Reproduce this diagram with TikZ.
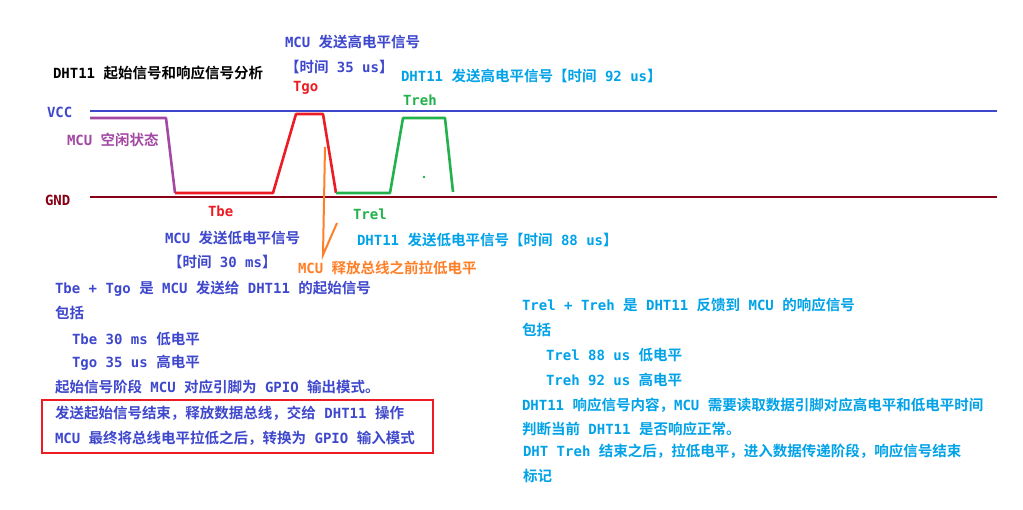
\documentclass[tikz,border=0pt]{standalone}
\usepackage{fontspec}
\setmainfont{Noto Sans CJK SC}[BoldFont=* Bold]
\newfontfamily\monofont{DejaVu Sans Mono}
\newcommand\m[1]{{\monofont\fontsize{14}{16}\selectfont #1}}

\definecolor{blueT}{HTML}{3F48CC}
\definecolor{cyanT}{HTML}{00A2E8}
\definecolor{redT}{HTML}{ED1C24}
\definecolor{greenT}{HTML}{22B14C}
\definecolor{orangeT}{HTML}{FF7F27}
\definecolor{purpleT}{HTML}{A349A4}
\definecolor{gndT}{HTML}{880015}

\tikzset{
  lbl/.style={anchor=west, inner sep=0pt, outer sep=0pt, font=\bfseries\fontsize{14.5}{17}\selectfont},
  rail/.style={line width=2.6pt},
  wave/.style={line width=2.6pt, line join=round},
}

\begin{document}
\begin{tikzpicture}[x=1pt,y=-1pt]
\fill[white] (0,0) rectangle (1023,510);
\useasboundingbox (0,0) rectangle (1023,510);

% supply rails
\coordinate (vccL) at (90,111);
\coordinate (vccR) at (997,111);
\coordinate (gndL) at (90,197);
\coordinate (gndR) at (997,197);
\draw[rail, blueT] (vccL) -- (vccR);
\draw[rail, gndT] (gndL) -- (gndR);
\node[lbl, blueT] (vcc) at (47,112) {\m{VCC}};
\node[lbl, gndT] (gnd) at (45,200) {\m{GND}};

% waveform
\draw[wave, purpleT] (90,118) -- (166,118) -- (175,193);
\draw[wave, redT] (175,193) -- (273,193) -- (296,114) -- (323,114) -- (336,193);
\draw[wave, greenT] (336,193) -- (390,193) -- (403,118) -- (445,118) -- (453,192);
\fill[greenT] (424,177) circle (1.4);
\draw[orangeT, line width=2pt] (325,147) -- (323,255) -- (337,223);

% title and labels on the plot
\node[lbl, black] (title) at (53,73) {\m{DHT11 }起始信号和响应信号分析};
\node[lbl, blueT] (goA) at (285,42) {\m{MCU }发送高电平信号};
\node[lbl, blueT] (goB) at (285,67) {【时间\m{ 35 us}】};
\node[lbl, redT] (tgo) at (293,88) {\m{Tgo}};
\node[lbl, cyanT] (rehA) at (401,76) {\m{DHT11 }发送高电平信号【时间\m{ 92 us}】};
\node[lbl, greenT] (treh) at (403,100) {\m{Treh}};
\node[lbl, purpleT] (idle) at (67,140) {\m{MCU }空闲状态};
\node[lbl, redT] (tbe) at (208,211) {\m{Tbe}};
\node[lbl, blueT] (beA) at (165,238) {\m{MCU }发送低电平信号};
\node[lbl, blueT] (beB) at (168,262) {【时间\m{ 30 ms}】};
\node[lbl, greenT] (trel) at (353,214) {\m{Trel}};
\node[lbl, cyanT] (relA) at (357,240) {\m{DHT11 }发送低电平信号【时间\m{ 88 us}】};
\node[lbl, orangeT] (rls) at (298,268) {\m{MCU }释放总线之前拉低电平};

% start signal notes
\node[lbl, blueT] (s1) at (55,289) {\m{Tbe + Tgo }是\m{ MCU }发送给\m{ DHT11 }的起始信号};
\node[lbl, blueT] (s2) at (55,313) {包括};
\node[lbl, blueT] (s3) at (72,339) {\m{Tbe 30 ms }低电平};
\node[lbl, blueT] (s4) at (72,363) {\m{Tgo 35 us }高电平};
\node[lbl, blueT] (s5) at (55,387) {起始信号阶段\m{ MCU }对应引脚为\m{ GPIO }输出模式。};
\node[lbl, blueT] (s6) at (55,413) {发送起始信号结束，释放数据总线，交给\m{ DHT11 }操作};
\node[lbl, blueT] (s7) at (55,438) {\m{MCU }最终将总线电平拉低之后，转换为\m{ GPIO }输入模式};
\draw[redT, line width=2pt] (42,400) rectangle (433,453);

% response signal notes
\node[lbl, cyanT] (r1) at (522,305) {\m{Trel + Treh }是\m{ DHT11 }反馈到\m{ MCU }的响应信号};
\node[lbl, cyanT] (r2) at (522,330) {包括};
\node[lbl, cyanT] (r3) at (546,355) {\m{Trel 88 us }低电平};
\node[lbl, cyanT] (r4) at (546,380) {\m{Treh 92 us }高电平};
\node[lbl, cyanT] (r5) at (522,405) {\m{DHT11 }响应信号内容，\m{MCU }需要读取数据引脚对应高电平和低电平时间};
\node[lbl, cyanT] (r6) at (522,429) {判断当前\m{ DHT11 }是否响应正常。};
\node[lbl, cyanT] (r7) at (523,451) {\m{DHT Treh }结束之后，拉低电平，进入数据传递阶段，响应信号结束};
\node[lbl, cyanT] (r8) at (523,476) {标记};
\end{tikzpicture}
\end{document}
